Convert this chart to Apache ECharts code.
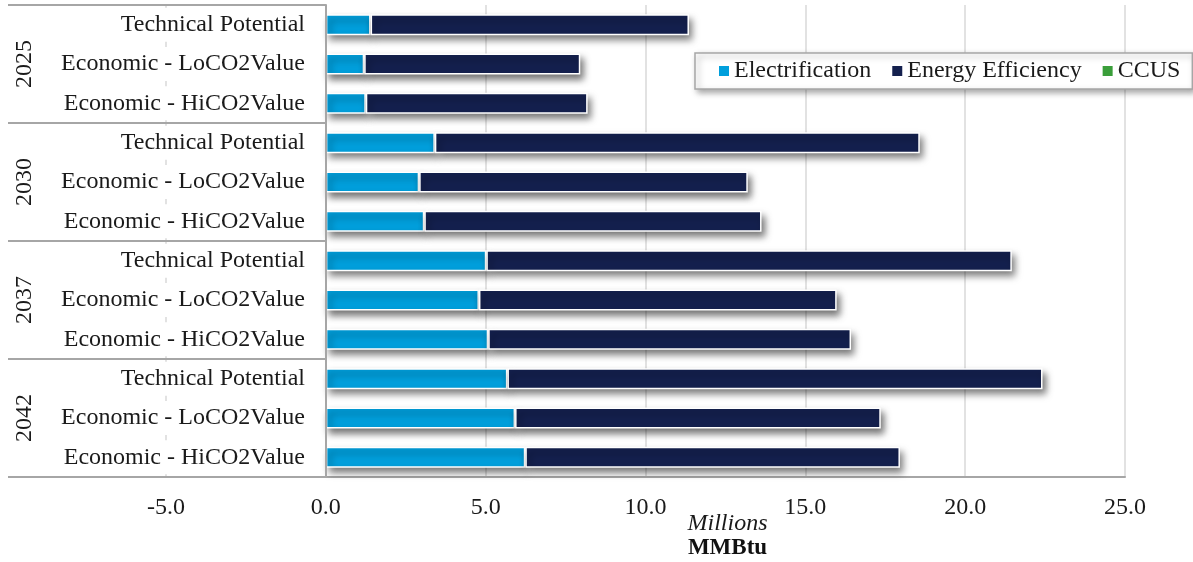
<!DOCTYPE html>
<html>
<head>
<meta charset="utf-8">
<script src="https://cdn.jsdelivr.net/npm/echarts@6/dist/echarts.min.js"></script>
<style>
  html, body { margin: 0; padding: 0; background: #fff; }
  #chart { width: 1193px; height: 562px; }
</style>
</head>
<body>
<div id="chart"></div>
<script>
// Scenario rows, listed top to bottom, three per year
const scenarios = [
  'Technical Potential', 'Economic - LoCO2Value', 'Economic - HiCO2Value',
  'Technical Potential', 'Economic - LoCO2Value', 'Economic - HiCO2Value',
  'Technical Potential', 'Economic - LoCO2Value', 'Economic - HiCO2Value',
  'Technical Potential', 'Economic - LoCO2Value', 'Economic - HiCO2Value'
];
const years = ['2025', '2030', '2037', '2042'];

// Savings in millions of MMBtu
const electrification = [1.40, 1.20, 1.25, 3.41, 2.92, 3.08, 5.02, 4.79, 5.08, 5.68, 5.92, 6.24];
const energyEfficiency = [9.96, 6.76, 6.94, 15.17, 10.28, 10.55, 16.44, 11.19, 11.35, 16.74, 11.44, 11.72];
const ccus = [0, 0, 0, 0, 0, 0, 0, 0, 0, 0, 0, 0];

const xTicks = { min: -5, max: 25, step: 5 };

const FONT = '"Liberation Serif", "Times New Roman", serif';
const barShadow = {
  shadowColor: 'rgba(0,0,0,0.55)',
  shadowBlur: 7,
  shadowOffsetX: 3,
  shadowOffsetY: 5
};

const chart = echarts.init(document.getElementById('chart'), null, { renderer: 'canvas' });

// both category axes sit on the value 0 line, 160px right of the grid's left edge (-5)
const zeroOffset = -160;

chart.setOption({
  animation: false,
  backgroundColor: '#fff',
  textStyle: { fontFamily: FONT },
  grid: {
    left: 166, right: 68, top: 5, bottom: 85,
    containLabel: false,
    outerBoundsMode: 'none'
  },
  legend: {
    left: 695, top: 53,
    padding: [6, 12, 6, 24],
    itemGap: 21,
    itemWidth: 10, itemHeight: 10,
    icon: 'rect',
    backgroundColor: '#fff',
    borderColor: '#a6a6a6',
    borderWidth: 1.5,
    shadowColor: 'rgba(0,0,0,0.35)',
    shadowBlur: 6,
    shadowOffsetX: 3,
    shadowOffsetY: 3,
    itemStyle: { borderWidth: 0, shadowBlur: 0, shadowColor: 'transparent' },
    textStyle: { fontFamily: FONT, fontSize: 24, color: '#1a1a1a' },
    data: ['Electrification', 'Energy Efficiency', 'CCUS']
  },
  xAxis: {
    type: 'value',
    min: xTicks.min, max: xTicks.max, interval: xTicks.step,
    axisLine: { show: true, onZero: false, lineStyle: { color: '#a6a6a6', width: 2 } },
    axisTick: { show: false },
    splitLine: { show: true, lineStyle: { color: '#d9d9d9', width: 1.5 } },
    axisLabel: {
      margin: 19,
      fontFamily: FONT, fontSize: 24, color: '#1a1a1a',
      formatter: v => v.toFixed(1)
    },
    name: '{a|Millions}\n{b|MMBtu}',
    nameLocation: 'middle',
    nameGap: 35,
    nameMoveOverlap: false,
    nameTextStyle: {
      padding: [0, 0, 0, 164],
      verticalAlign: 'top',
      rich: {
        a: { fontFamily: FONT, fontSize: 24, fontStyle: 'italic', color: '#1a1a1a', lineHeight: 24, align: 'center' },
        b: { fontFamily: FONT, fontSize: 23, fontWeight: 'bold', color: '#111', lineHeight: 24, align: 'center' }
      }
    }
  },
  yAxis: [
    {
      type: 'category',
      data: scenarios,
      inverse: true,
      position: 'left',
      offset: zeroOffset,
      z: 5,
      axisLine: { show: true, onZero: false, lineStyle: { color: '#a6a6a6', width: 2 } },
      axisTick: { show: false },
      splitLine: { show: false },
      axisLabel: {
        margin: 21,
        fontFamily: FONT, fontSize: 24, color: '#1a1a1a',
        backgroundColor: '#fff',
        padding: [5, 0, 5, 0]
      }
    },
    {
      type: 'category',
      data: years,
      inverse: true,
      position: 'left',
      offset: zeroOffset,
      z: 5,
      axisLine: { show: false, onZero: false },
      axisTick: { show: true, length: 318, lineStyle: { color: '#a6a6a6', width: 2 } },
      splitLine: { show: false },
      axisLabel: {
        rotate: 90,
        margin: 289,
        fontFamily: FONT, fontSize: 24, color: '#1a1a1a'
      }
    }
  ],
  series: [
    {
      name: 'Electrification',
      type: 'bar',
      stack: 'total',
      yAxisIndex: 0,
      barWidth: 21,
      data: electrification,
      itemStyle: Object.assign({ color: '#009fdc', borderColor: '#fff', borderWidth: 1.5 }, barShadow)
    },
    {
      name: 'Energy Efficiency',
      type: 'bar',
      stack: 'total',
      yAxisIndex: 0,
      barWidth: 21,
      data: energyEfficiency,
      itemStyle: Object.assign({ color: '#14204e', borderColor: '#fff', borderWidth: 1.5 }, barShadow)
    },
    {
      name: 'CCUS',
      type: 'bar',
      stack: 'total',
      yAxisIndex: 0,
      barWidth: 21,
      data: ccus,
      itemStyle: { color: '#3a9e3a', borderWidth: 0 }
    }
  ]
});
</script>
</body>
</html>
